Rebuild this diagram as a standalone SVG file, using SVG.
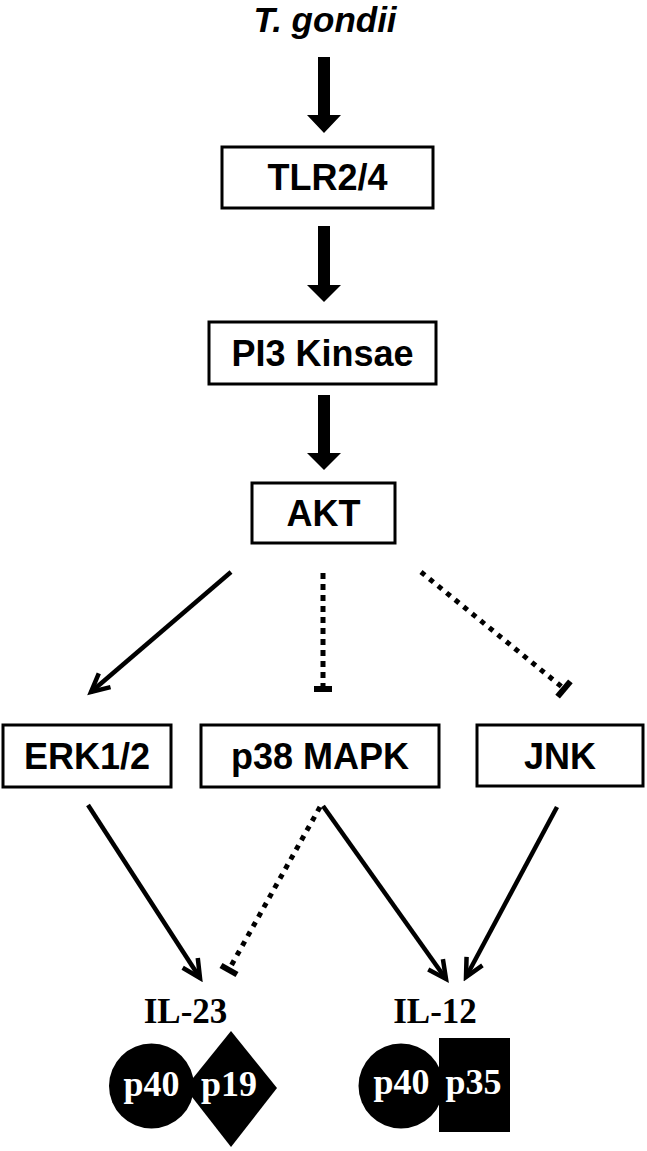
<svg xmlns="http://www.w3.org/2000/svg" width="647" height="1151" viewBox="0 0 647 1151">
<style>
.box{fill:#fff;stroke:#000;stroke-width:3}
.lbl{font-family:"Liberation Sans",Arial,sans-serif;font-weight:bold;font-size:36px;fill:#000;text-anchor:middle}
.il{font-family:"Liberation Serif","Times New Roman",serif;font-weight:bold;font-size:35px;fill:#000;text-anchor:middle}
.sub{font-family:"Liberation Serif","Times New Roman",serif;font-weight:bold;font-size:36px;fill:#fff;text-anchor:middle}
.solid{stroke:#000;stroke-width:4.5;fill:none;marker-end:url(#open)}
.dash{stroke:#000;stroke-width:5;fill:none;stroke-dasharray:6 5}
.dot{stroke:#000;stroke-width:5;fill:none;stroke-dasharray:5 6}
.bar{stroke:#000;stroke-width:6;fill:none}
.thick{fill:#000}
</style>
<defs>
<marker id="open" markerUnits="userSpaceOnUse" viewBox="-3 -3 26 24" markerWidth="26" markerHeight="24" refX="18" refY="9" orient="auto">
<path d="M0,0 L18,9 L0,18" fill="none" stroke="#000" stroke-width="4.5"/>
</marker>
</defs>
<rect width="647" height="1151" fill="#fff"/>

<g id="title">
<text x="325" y="32" font-family="Liberation Sans,Arial,sans-serif" font-weight="bold" font-style="italic" font-size="35" text-anchor="middle">T. gondii</text>
</g>

<g id="connectors">
<polygon class="thick" points="318,57 330,57 330,115 341,115 324,133 307,115 318,115"/>
<polygon class="thick" points="318,226 330,226 330,285 341,285 324,302 307,285 318,285"/>
<polygon class="thick" points="318,395 330,395 330,453 341,453 324,470 307,453 318,453"/>
<line class="solid" x1="231" y1="572" x2="91" y2="692"/>
<line class="dash" x1="323" y1="573" x2="323" y2="686"/>
<line class="bar" x1="314" y1="689" x2="332" y2="689"/>
<line class="dot" x1="421" y1="572" x2="562" y2="687"/>
<line class="bar" x1="557.6" y1="696.7" x2="570.4" y2="681.3"/>
<line class="solid" x1="88" y1="805" x2="200" y2="978"/>
<line class="dot" x1="320" y1="807" x2="231" y2="966"/>
<line class="bar" x1="221" y1="965.5" x2="237" y2="974.5"/>
<line class="solid" x1="323" y1="806" x2="446" y2="979"/>
<line class="solid" x1="557" y1="807" x2="466" y2="977"/>
</g>

<g id="TLR">
<rect class="box" x="222" y="147" width="211" height="61"/>
<text class="lbl" x="327.5" y="190">TLR2/4</text>
</g>
<g id="PI3K">
<rect class="box" x="209" y="322" width="227" height="62"/>
<text class="lbl" x="322.5" y="366">PI3 Kinsae</text>
</g>
<g id="AKT">
<rect class="box" x="252" y="483" width="143" height="60"/>
<text class="lbl" x="323.5" y="526">AKT</text>
</g>
<g id="ERK">
<rect class="box" x="3" y="725" width="168" height="62"/>
<text class="lbl" x="87" y="769">ERK1/2</text>
</g>
<g id="p38">
<rect class="box" x="201" y="725" width="238" height="62"/>
<text class="lbl" x="320" y="769">p38 MAPK</text>
</g>
<g id="JNK">
<rect class="box" x="477" y="725" width="166" height="61"/>
<text class="lbl" x="560" y="769">JNK</text>
</g>

<g id="IL23">
<text class="il" x="185.5" y="1023">IL-23</text>
<polygon points="231,1031 277,1088 231,1147 185,1088" fill="#000"/>
<circle cx="151.5" cy="1086" r="42.5" fill="#000"/>
<text class="sub" x="151.5" y="1096">p40</text>
<text class="sub" x="229" y="1096">p19</text>
</g>
<g id="IL12">
<text class="il" x="435" y="1023">IL-12</text>
<circle cx="401" cy="1086" r="42.5" fill="#000"/>
<rect x="439" y="1038" width="71" height="94" fill="#000"/>
<text class="sub" x="401.5" y="1094">p40</text>
<text class="sub" x="473.5" y="1094">p35</text>
</g>
</svg>
